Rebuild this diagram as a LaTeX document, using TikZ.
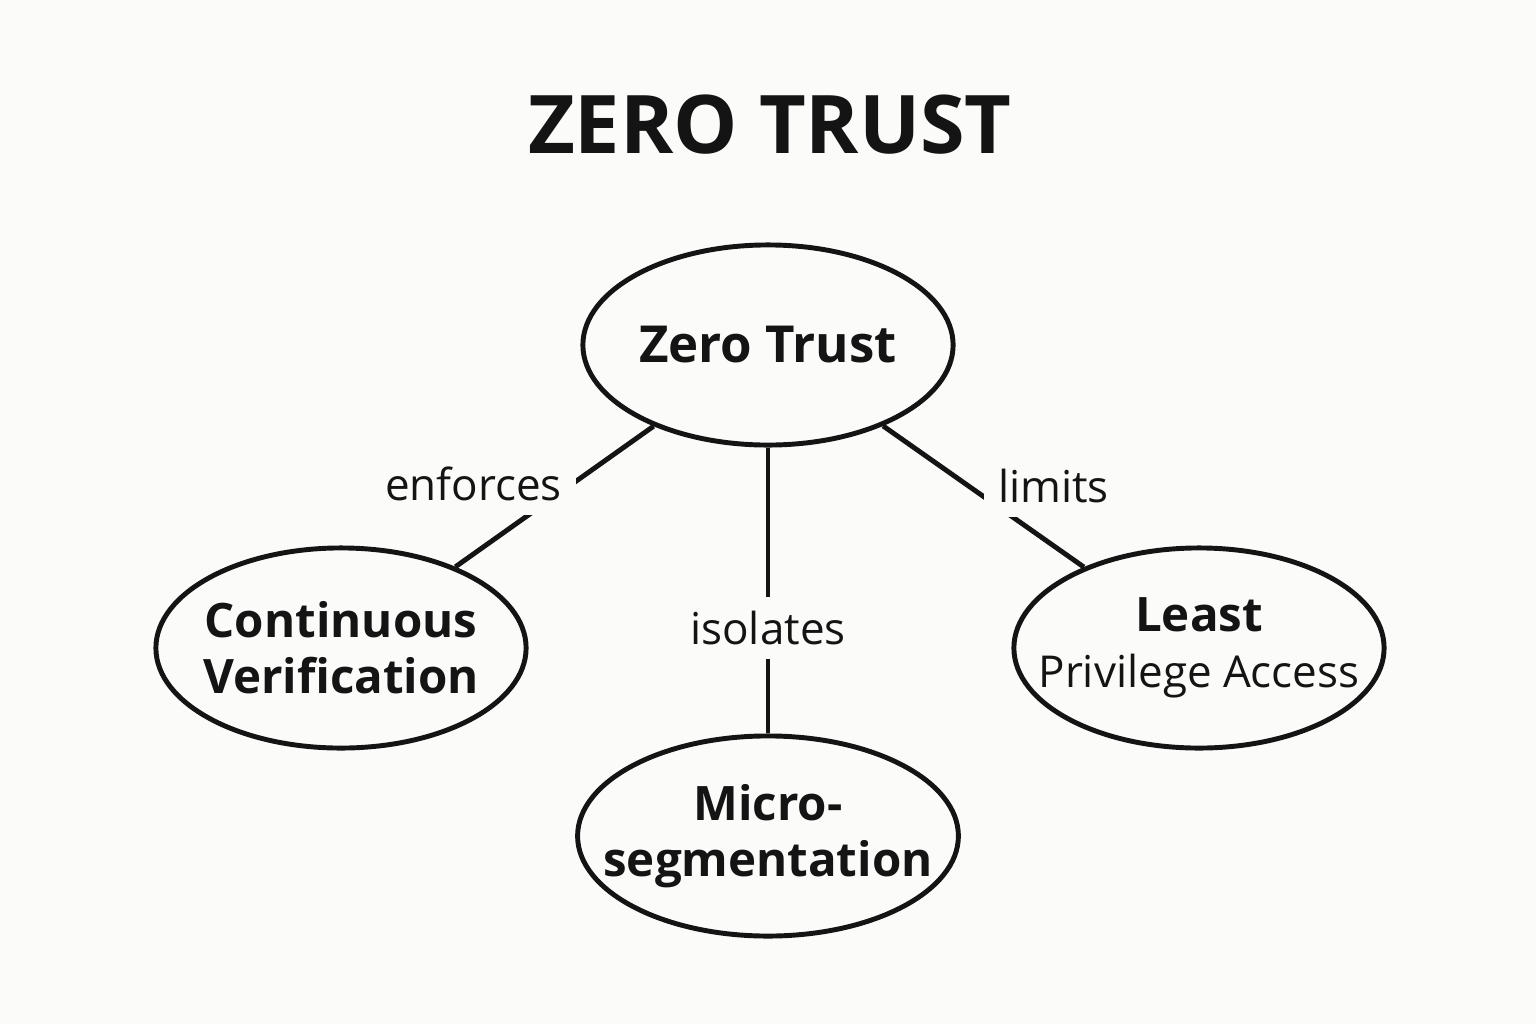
\documentclass[tikz,border=0pt]{standalone}
\usepackage{fontspec}
\setmainfont{Open Sans}
\usetikzlibrary{shapes.geometric}
\definecolor{paper}{HTML}{FBFBF9}
\definecolor{ink}{HTML}{141414}

\tikzset{
	concept/.style={ellipse, draw=ink, line width=1.4pt, minimum width=3.7cm,
		minimum height=2cm, inner xsep=-0.3cm, inner ysep=0pt, align=center, text=ink,
		font=\fontsize{13.5}{16}\selectfont\bfseries},
	link/.style={draw=ink, line width=1.4pt},
	verb/.style={fill=paper, text=ink, inner sep=4pt, font=\fontsize{12.5}{14}\selectfont},
}

\begin{document}
\begin{tikzpicture}[x=0.01cm, y=-0.01cm]
	\fill[paper] (0,0) rectangle (1536,1024);
	\useasboundingbox (0,0) rectangle (1536,1024);

	\node[text=ink, font=\fontsize{23}{26}\selectfont\bfseries] (title) at (770,125) {ZERO TRUST};

	\node[concept, font=\fontsize{14.5}{17}\selectfont\bfseries] (zt) at (768,345) {Zero Trust};
	\node[concept] (cv) at (341,648) {Continuous\\Verification};
	\node[concept] (ms) at (768,836) {Micro-\\segmentation};
	\node[concept, font=\fontsize{12.5}{16}\selectfont] (lp) at (1199,648) {{\fontsize{13.5}{16}\selectfont\bfseries Least}\\Privilege Access};

	\draw[link] (zt) -- node[verb, pos=0.48, xshift=-0.85cm, yshift=0.1cm] {enforces} (cv);
	\draw[link] (zt) -- node[verb, pos=0.63] {isolates} (ms);
	\draw[link] (zt) -- node[verb, pos=0.5, xshift=0.7cm, yshift=0.1cm] {limits} (lp);
\end{tikzpicture}
\end{document}
